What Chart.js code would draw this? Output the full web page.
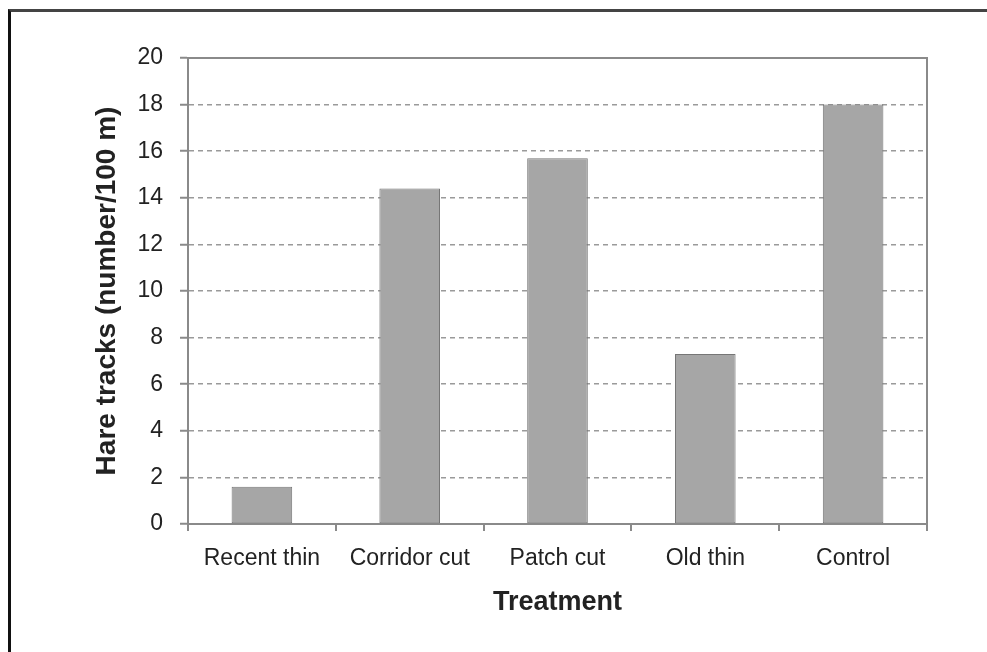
<!DOCTYPE html>
<html>
<head>
<meta charset="utf-8">
<script src="https://cdn.jsdelivr.net/npm/chart.js@4"></script>
<style>
  html, body { margin: 0; padding: 0; background: #fff; }
  #wrap { position: relative; width: 987px; height: 652px; overflow: hidden; }
  #c { position: absolute; left: 0; top: 0; }
  #frame { position: absolute; left: 8px; top: 9px; right: -10px; bottom: -10px;
           border-top: 3px solid #444; border-left: 3px solid #111; pointer-events: none; }
</style>
</head>
<body>
<div id="wrap">
  <canvas id="c" width="987" height="652"></canvas>
  <div id="frame"></div>
</div>
<script>
const categories = ["Recent thin", "Corridor cut", "Patch cut", "Old thin", "Control"];
const hareTracks = [1.6, 14.4, 15.7, 7.3, 18.0];
const yTicks = [0, 2, 4, 6, 8, 10, 12, 14, 16, 18, 20];
const yTitle = "Hare tracks (number/100 m)";
const xTitle = "Treatment";

const FONT = "'Liberation Sans', Arial, Helvetica, sans-serif";

const plotFrame = {
  id: 'plotFrame',
  afterDraw(chart) {
    const {ctx, chartArea: a} = chart;
    ctx.save();
    ctx.strokeStyle = '#8a8a8a';
    ctx.lineWidth = 2;
    ctx.beginPath();
    ctx.moveTo(a.left, a.top);
    ctx.lineTo(a.right, a.top);
    ctx.lineTo(a.right, a.bottom);
    ctx.stroke();
    ctx.restore();
  }
};

new Chart(document.getElementById('c'), {
  type: 'bar',
  data: {
    labels: categories,
    datasets: [{
      data: hareTracks,
      backgroundColor: '#a6a6a6',
      borderColor: '#767676',
      borderWidth: 1,
      borderSkipped: false,
      barPercentage: 0.41,
      categoryPercentage: 1.0
    }]
  },
  options: {
    responsive: false,
    animation: false,
    devicePixelRatio: 1,
    layout: { padding: { left: 0, top: 58, right: 60, bottom: 0 } },
    plugins: { legend: { display: false }, tooltip: { enabled: false } },
    scales: {
      x: {
        offset: true,
        afterFit(s) { s.height = 128; },
        grid: { display: true, drawOnChartArea: false, drawTicks: true, tickLength: 7, color: '#8a8a8a', lineWidth: 2, offset: true },
        border: { display: true, color: '#8a8a8a', width: 2 },
        ticks: { color: '#222', padding: 14, font: { family: FONT, size: 23 }, maxRotation: 0 },
        title: { display: true, text: xTitle, color: '#222', font: { family: FONT, size: 27, weight: 'bold' }, padding: { top: 0, bottom: 33 } }
      },
      y: {
        min: 0, max: 20,
        afterFit(s) { s.width = 188; },
        afterBuildTicks(s) { s.ticks = yTicks.map(v => ({ value: v })); },
        grid: {
          color: ctx => (ctx.tick && (ctx.tick.value === 0 || ctx.tick.value === 20)) ? 'rgba(0,0,0,0)' : '#9a9a9a',
          tickColor: '#8a8a8a',
          lineWidth: 1.5,
          tickWidth: 2,
          tickLength: 8,
          drawTicks: true,
          tickBorderDash: []
        },
        border: { display: true, color: '#8a8a8a', width: 2, dash: [5, 4] },
        ticks: { color: '#222', padding: 17, font: { family: FONT, size: 23 } },
        title: { display: true, text: yTitle, color: '#222', font: { family: FONT, size: 28, weight: 'bold' }, padding: { top: 90, bottom: 0 } }
      }
    }
  },
  plugins: [plotFrame]
});
</script>
</body>
</html>
